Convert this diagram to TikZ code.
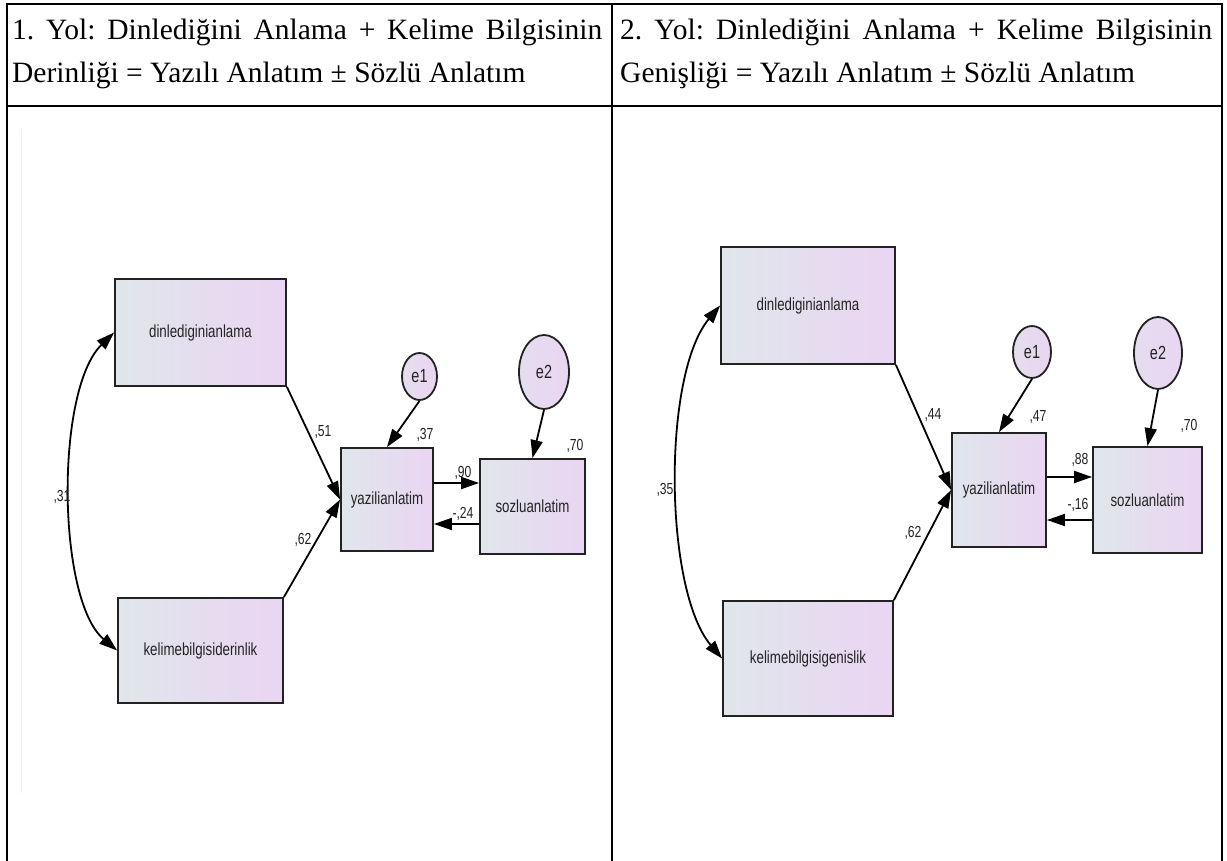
\documentclass[tikz,border=0pt]{standalone}
\usepackage{fontspec}
\setmainfont{Liberation Serif}
\newfontfamily\amos[FakeStretch=0.76]{Liberation Sans}
\usetikzlibrary{shapes.geometric,arrows.meta}
\definecolor{shL}{RGB}{224,230,235}
\definecolor{shR}{RGB}{234,213,242}
\definecolor{bord}{RGB}{34,34,34}
\definecolor{txt}{RGB}{35,35,35}
\frenchspacing
\begin{document}
\begin{tikzpicture}[x=1pt,y=-1pt,
  var/.style={draw=bord, line width=1.8pt, left color=shL, right color=shR, inner sep=0pt, text=txt, font=\amos\fontsize{17.5}{20}\selectfont},
  err/.style={ellipse, draw=bord, line width=1.8pt, left color=shL!50!shR, right color=shR, inner sep=0pt, text=txt, font=\amos\fontsize{19}{22}\selectfont},
  arr/.style={line width=1.8pt, -{Triangle[length=18pt,width=12pt]}},
  cov/.style={line width=1.8pt, {Triangle[length=18pt,width=12pt]}-{Triangle[length=18pt,width=12pt]}},
  coef/.style={font=\amos\fontsize{16}{18}\selectfont, text=txt, inner sep=0pt},
  hdr/.style={font=\fontsize{29.5}{34}\selectfont, inner sep=0pt, anchor=base west},
  tabline/.style={line width=2pt}
]
\useasboundingbox (0,0) rectangle (1227,861);
\fill[white] (0,0) rectangle (1227,861);

% table
\draw[tabline] (7,861) -- (7,4) -- (1222,4) -- (1222,861);
\draw[tabline] (612,4) -- (612,861);
\draw[tabline] (7,106) -- (1222,106);
\draw[line width=1pt, gray!12] (21,130) -- (21,793);

% headers
\node[hdr] (h1a) at (12,40) {\makebox[590pt][s]{1. Yol: Dinlediğini Anlama + Kelime Bilgisinin}};
\node[hdr] (h1b) at (12,83) {Derinliği = Yazılı Anlatım ± Sözlü Anlatım};
\node[hdr] (h2a) at (620,40) {\makebox[592pt][s]{2. Yol: Dinlediğini Anlama + Kelime Bilgisinin}};
\node[hdr] (h2b) at (620,83) {Genişliği = Yazılı Anlatım ± Sözlü Anlatım};

% ---------- left model ----------
\node[var, minimum width=171pt, minimum height=107pt] (dinl1) at (200.5,332.5) {dinlediginianlama};
\node[var, minimum width=165pt, minimum height=105pt] (kel1) at (200.5,650.5) {kelimebilgisiderinlik};
\node[var, minimum width=92pt, minimum height=103pt] (yaz1) at (387,499.5) {yazilianlatim};
\node[var, minimum width=105pt, minimum height=95pt] (soz1) at (532.5,506.5) {sozluanlatim};
\node[err, minimum width=35pt, minimum height=47pt] (e11) at (419.5,376.5) {e1};
\node[err, minimum width=50pt, minimum height=74pt] (e21) at (544,372) {e2};

\draw[arr] (dinl1.south east) -- (yaz1.west);
\draw[arr] (kel1.north east) -- (yaz1.west);
\draw[arr] (e11.south) -- (yaz1.north);
\draw[arr] (e21.south) -- (soz1.north);
\coordinate (la1) at (0,483);
\coordinate (lb1) at (0,524);
\draw[arr] (yaz1.east |- la1) -- (soz1.west |- la1);
\draw[arr] (soz1.west |- lb1) -- (yaz1.east |- lb1);
\draw[cov] (dinl1.west) .. controls (55,390) and (57,600) .. (kel1.west);

\node[coef] (c51) at (323,432) {,51};
\node[coef] (c62a) at (303,540) {,62};
\node[coef] (c37) at (425,435) {,37};
\node[coef] (c70a) at (575,446) {,70};
\node[coef] (c90) at (463,473) {,90};
\node[coef] (c24) at (463,514) {-,24};
\node[coef] (c31) at (62,497) {,31};

% ---------- right model ----------
\node[var, minimum width=174pt, minimum height=117pt] (dinl2) at (808,305.5) {dinlediginianlama};
\node[var, minimum width=170pt, minimum height=115pt] (kel2) at (808,658.5) {kelimebilgisigenislik};
\node[var, minimum width=94pt, minimum height=114pt] (yaz2) at (999,490) {yazilianlatim};
\node[var, minimum width=109pt, minimum height=106pt] (soz2) at (1147.5,500) {sozluanlatim};
\node[err, minimum width=38pt, minimum height=52pt] (e12) at (1032,352) {e1};
\node[err, minimum width=48pt, minimum height=72pt] (e22) at (1158,353) {e2};

\draw[arr] (dinl2.south east) -- (yaz2.west);
\draw[arr] (kel2.north east) -- (yaz2.west);
\draw[arr] (e12.south) -- (yaz2.north);
\draw[arr] (e22.south) -- (soz2.north);
\coordinate (la2) at (0,477);
\coordinate (lb2) at (0,520);
\draw[arr] (yaz2.east |- la2) -- (soz2.west |- la2);
\draw[arr] (soz2.west |- lb2) -- (yaz2.east |- lb2);
\draw[cov] (dinl2.west) .. controls (662,375) and (664,590) .. (kel2.west);

\node[coef] (c44) at (933,415) {,44};
\node[coef] (c62b) at (913,533) {,62};
\node[coef] (c47) at (1038,417) {,47};
\node[coef] (c70b) at (1189,426) {,70};
\node[coef] (c88) at (1080,460) {,88};
\node[coef] (c16) at (1078,505) {-,16};
\node[coef] (c35) at (665,490) {,35};
\end{tikzpicture}
\end{document}
